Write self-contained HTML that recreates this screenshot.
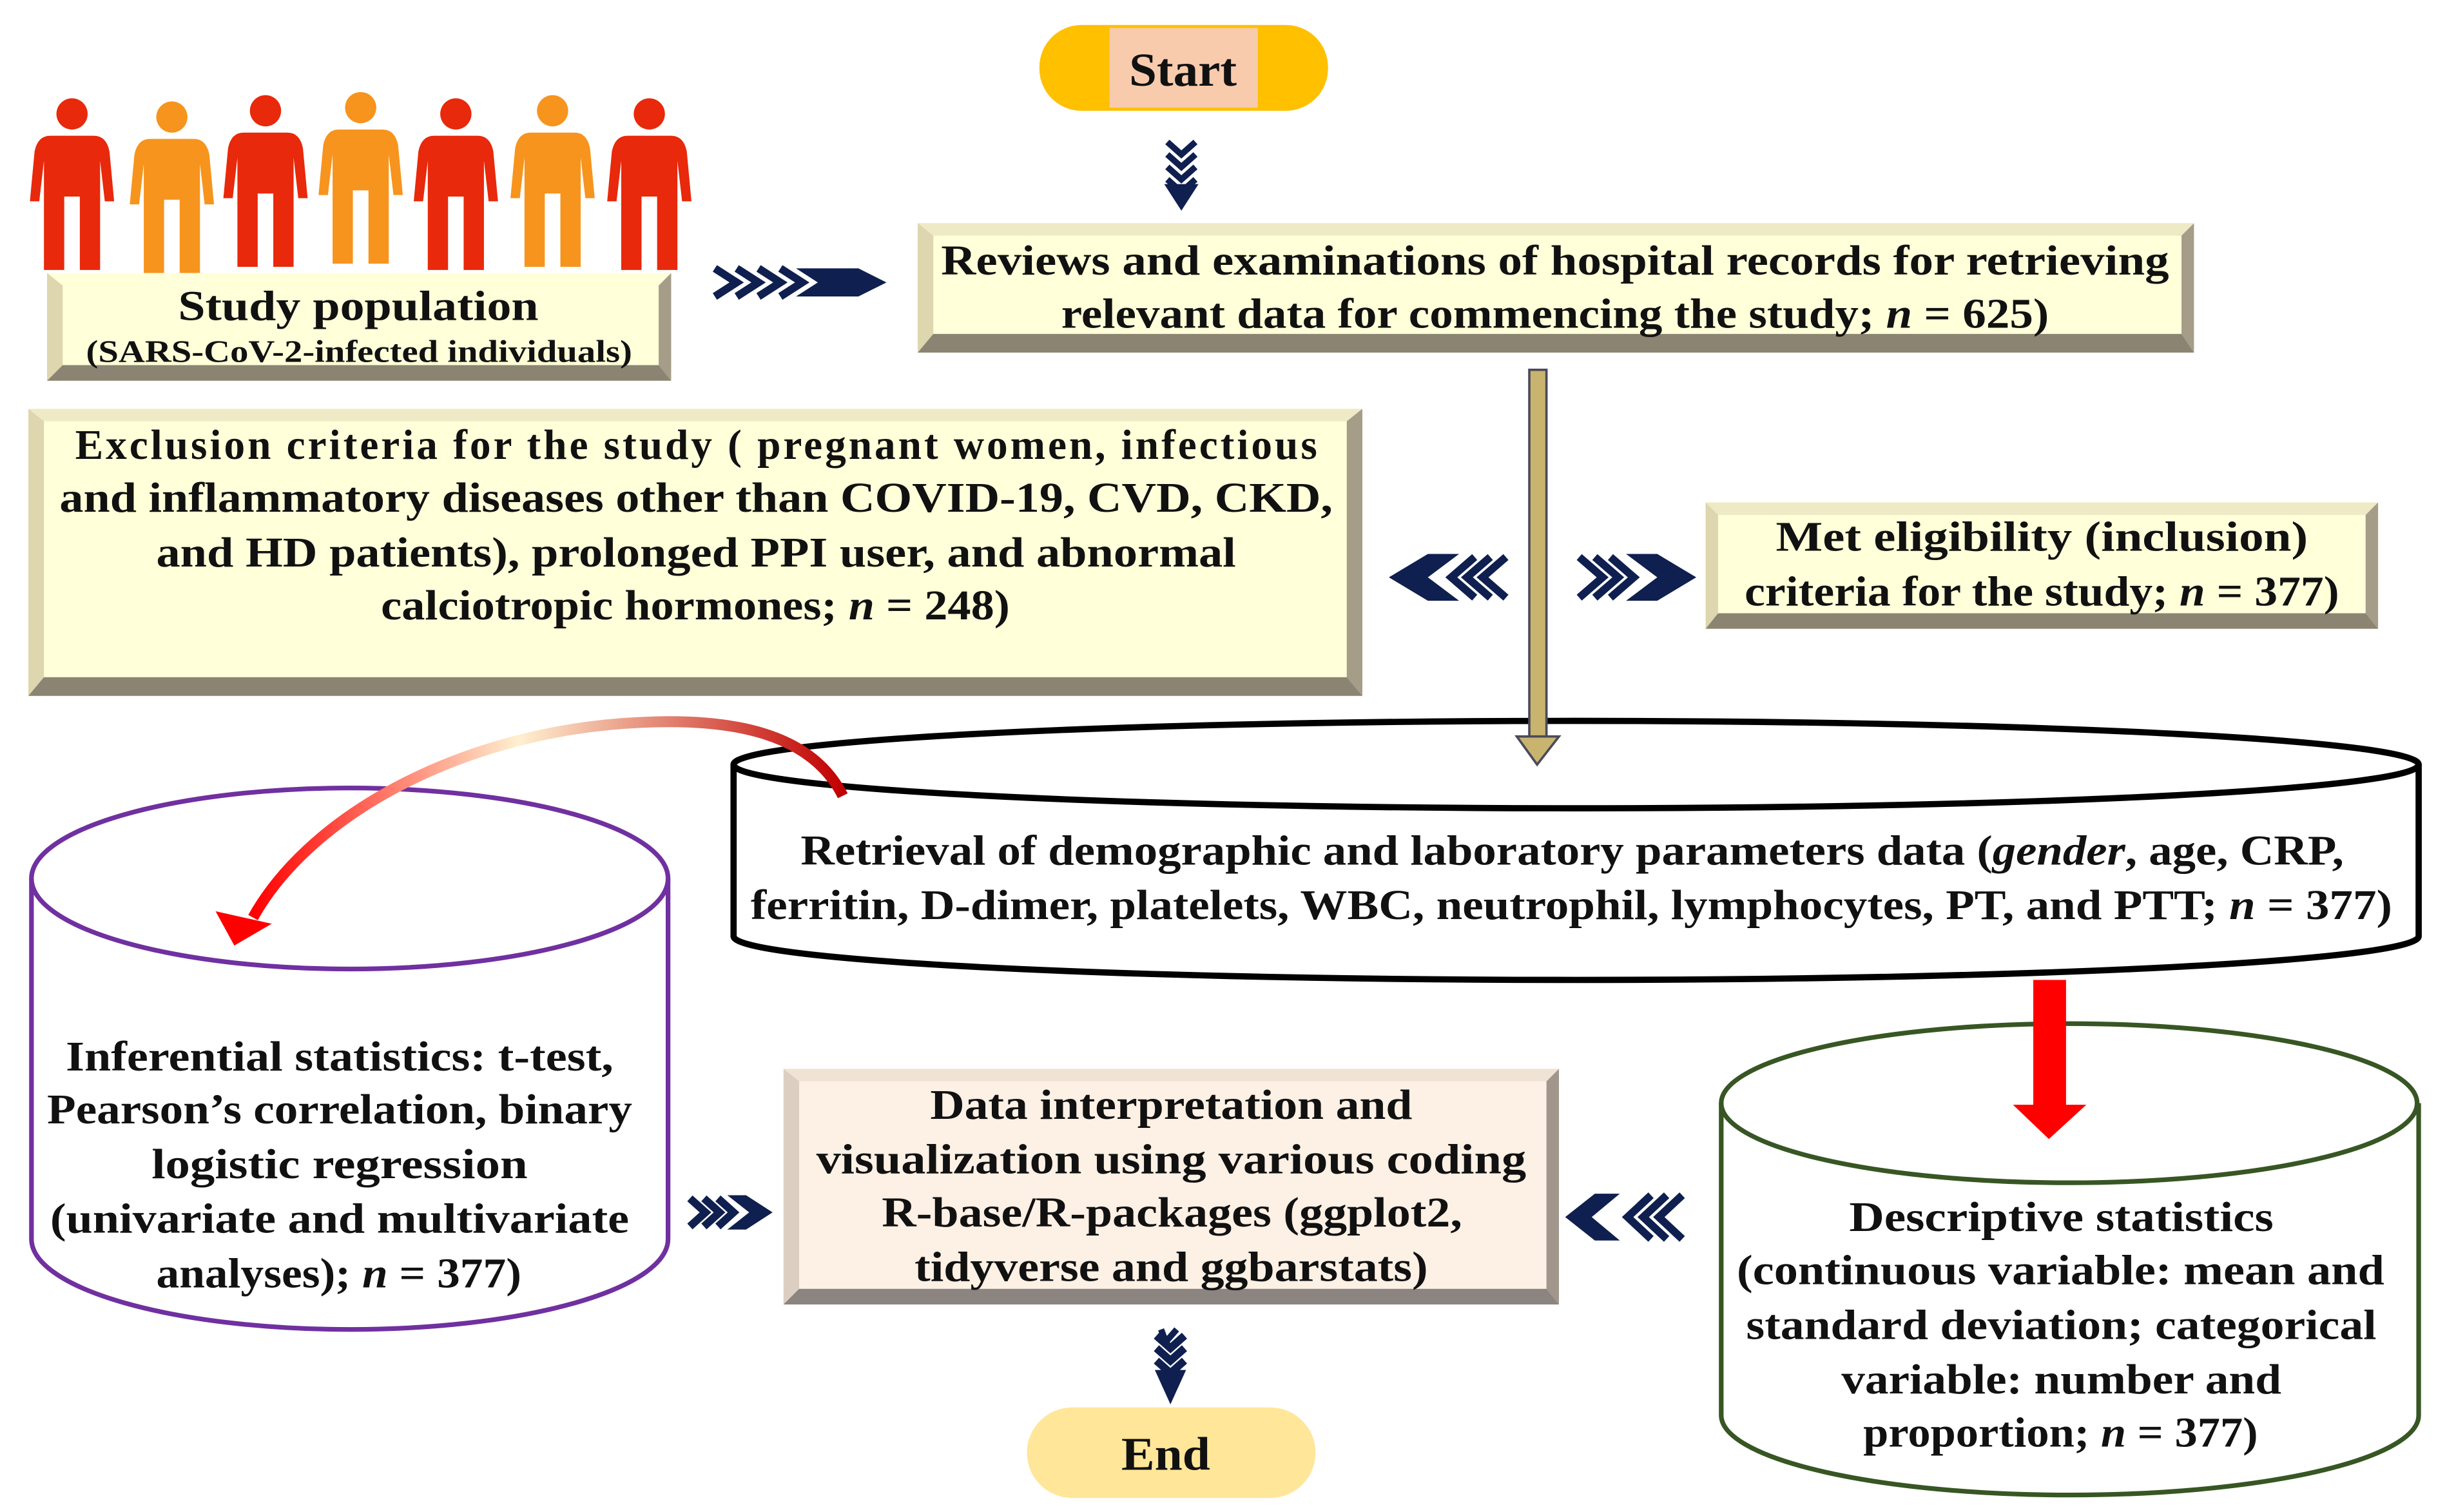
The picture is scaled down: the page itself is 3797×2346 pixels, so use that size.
<!DOCTYPE html>
<html><head><meta charset="utf-8"><style>html,body{margin:0;padding:0;background:#fff}svg{display:block}</style></head>
<body>
<svg width="3797" height="2346" viewBox="0 0 1568 969" xmlns="http://www.w3.org/2000/svg" font-family="'Liberation Serif', serif" font-weight="bold" fill="#111">
<defs>
<linearGradient id="cg" x1="0" y1="0" x2="1" y2="0">
<stop offset="0" stop-color="#ff0000"/><stop offset="0.45" stop-color="#fff0d0"/><stop offset="1" stop-color="#c00000"/>
</linearGradient>
<g id="man">
<circle cx="0" cy="-48" r="10"/>
<path d="M-14,-34 H14 Q22,-34 24,-24 L27,8 H21 L18,-18 V52 H5 V5 H-5 V52 H-18 V-18 L-21,8 H-27 L-24,-24 Q-22,-34 -14,-34Z"/>
</g>
</defs>
<rect width="1568" height="969" fill="#fff"/>

<!-- people -->
<g fill="#E8290B"><use href="#man" x="46" y="121"/><use href="#man" x="170" y="119"/><use href="#man" x="292" y="121"/><use href="#man" x="416" y="121"/></g>
<g fill="#F7941D"><use href="#man" x="110" y="123"/><use href="#man" x="231" y="117"/><use href="#man" x="354" y="119"/></g>

<!-- Start -->
<rect x="666" y="16" width="185" height="55" rx="27" fill="#FFC000"/>
<rect x="711" y="18" width="95" height="51" fill="#F8CBAD"/>
<text x="758" y="55" font-size="30" text-anchor="middle" textLength="69" lengthAdjust="spacingAndGlyphs">Start</text>

<!-- down chevrons -->
<g stroke="#0F1F4F" stroke-width="4" fill="none">
<polyline points="748,91 757,99 766,91"/><polyline points="748,99 757,107 766,99"/><polyline points="748,107 757,115 766,107"/><polyline points="748,115 757,123 766,115"/>
<polyline points="748,852 751,860 758,852" transform="translate(-4,0)"/>
</g>
<polygon points="746,118 768,118 757,135" fill="#0F1F4F"/>

<!-- bevel boxes -->
<g>
<rect x="30" y="175" width="400" height="69" fill="#FFFFD9"/>
<polygon points="30,175 40,183 40,234 30,244" fill="#DDD6AE"/>
<polygon points="430,175 430,244 422,234 422,183" fill="#A59D88"/>
<polygon points="30,244 40,234 422,234 430,244" fill="#8C8472"/>
</g>
<g>
<rect x="588" y="143" width="818" height="83" fill="#FFFFD9"/>
<polygon points="588,143 1406,143 1398,151 596,151" fill="#EEEAC6"/>
<polygon points="588,143 598,151 598,214 588,226" fill="#DDD6AE"/>
<polygon points="1406,143 1406,226 1398,214 1398,151" fill="#A59D88"/>
<polygon points="588,226 598,214 1398,214 1406,226" fill="#8C8472"/>
</g>
<g>
<rect x="18" y="262" width="855" height="184" fill="#FFFFD9"/>
<polygon points="18,262 873,262 863,270 28,270" fill="#EEEAC6"/>
<polygon points="18,262 28,270 28,434 18,446" fill="#DDD6AE"/>
<polygon points="873,262 873,446 863,434 863,270" fill="#A59D88"/>
<polygon points="18,446 28,434 863,434 873,446" fill="#8C8472"/>
</g>
<g>
<rect x="1093" y="322" width="431" height="81" fill="#FFFFD9"/>
<polygon points="1093,322 1524,322 1516,330 1101,330" fill="#EEEAC6"/>
<polygon points="1093,322 1101,330 1101,393 1093,403" fill="#DDD6AE"/>
<polygon points="1524,322 1524,403 1516,393 1516,330" fill="#A59D88"/>
<polygon points="1093,403 1101,393 1516,393 1524,403" fill="#8C8472"/>
</g>
<g>
<rect x="502" y="685" width="497" height="151" fill="#FDF0E4"/>
<polygon points="502,685 999,685 991,693 510,693" fill="#EFE3D6"/>
<polygon points="502,685 512,693 512,826 502,836" fill="#DCCFC2"/>
<polygon points="999,685 999,836 991,826 991,693" fill="#A0968C"/>
<polygon points="502,836 512,826 991,826 999,836" fill="#8C8480"/>
</g>

<!-- Study population text -->
<text x="114" y="205" font-size="27" textLength="231" lengthAdjust="spacingAndGlyphs">Study population</text>
<text x="55" y="232" font-size="20" textLength="350" lengthAdjust="spacingAndGlyphs">(SARS-CoV-2-infected individuals)</text>

<text x="603" y="176" font-size="27" textLength="787" lengthAdjust="spacingAndGlyphs">Reviews and examinations of hospital records for retrieving</text>
<text x="680" y="210" font-size="27" textLength="633" lengthAdjust="spacingAndGlyphs">relevant data for commencing the study; <tspan font-style="italic">n</tspan> = 625)</text>

<text font-size="27" lengthAdjust="spacingAndGlyphs">
<tspan x="48" y="294" textLength="796">Exclusion criteria for the study ( pregnant women, infectious</tspan>
</text>
<text x="38" y="328" font-size="27" textLength="816" lengthAdjust="spacingAndGlyphs">and inflammatory diseases other than COVID-19, CVD, CKD,</text>
<text x="100" y="363" font-size="27" textLength="692" lengthAdjust="spacingAndGlyphs">and HD patients), prolonged PPI user, and abnormal</text>
<text x="244" y="397" font-size="27" textLength="403" lengthAdjust="spacingAndGlyphs">calciotropic hormones; <tspan font-style="italic">n</tspan> = 248)</text>

<text x="1138" y="353" font-size="27" textLength="341" lengthAdjust="spacingAndGlyphs">Met eligibility (inclusion)</text>
<text x="1118" y="388" font-size="27" textLength="381" lengthAdjust="spacingAndGlyphs">criteria for the study; <tspan font-style="italic">n</tspan> = 377)</text>

<!-- horizontal chevrons -->
<g stroke="#0F1F4F" stroke-width="5" fill="none">
<!-- right at top -->
<polyline points="458,172 472,181 458,190"/><polyline points="472,172 486,181 472,190"/><polyline points="486,172 500,181 486,190"/><polyline points="500,172 514,181 500,190"/>
<!-- left 890-970 -->
<polyline points="945,357 930,370 945,383"/><polyline points="955,357 940,370 955,383"/><polyline points="965,357 950,370 965,383"/>
<!-- right 1005-1087 -->
<polyline points="1012,357 1027,370 1012,383"/><polyline points="1022,357 1037,370 1022,383"/><polyline points="1032,357 1047,370 1032,383"/>
<!-- right 437-495 -->
<polyline points="442,768 452,777 442,786"/><polyline points="451,768 461,777 451,786"/><polyline points="460,768 470,777 460,786"/>
<!-- left 1003-1083 -->
<polyline points="1058,766 1043,780 1058,794"/><polyline points="1068,766 1053,780 1068,794"/><polyline points="1078,766 1063,780 1078,794"/>
<!-- down bottom -->
<polyline points="741,856 750,864 759,856"/><polyline points="741,864 750,872 759,864"/><polyline points="741,872 750,880 759,872"/>
</g>
<g fill="#0F1F4F">
<polygon points="510,172 550,172 568,181 550,190 510,190 524,181"/>
<polygon points="890,370 915,355 935,355 915,370 935,385 915,385"/>
<polygon points="1087,370 1062,355 1042,355 1062,370 1042,385 1062,385"/>
<polygon points="495,777 478,766 466,766 480,777 466,788 478,788"/>
<polygon points="1003,780 1022,765 1038,765 1020,780 1038,795 1022,795"/>
<polygon points="740,878 760,878 750,900"/>
</g>

<!-- black cylinder -->
<path d="M470,490 V600 A540,28 0 0 0 1550,600 V490" fill="#fff" stroke="#000" stroke-width="4"/>
<ellipse cx="1010" cy="490" rx="540" ry="28" fill="#fff" stroke="#000" stroke-width="4"/>

<!-- vertical khaki arrow -->
<rect x="980" y="237" width="11" height="236" fill="#C8B46E" stroke="#4a4a5a" stroke-width="1.5"/>
<polygon points="972,472 999,472 985,490" fill="#C8B46E" stroke="#4a4a5a" stroke-width="1.5"/>

<text x="513" y="554" font-size="27" textLength="989" lengthAdjust="spacingAndGlyphs">Retrieval of demographic and laboratory parameters data (<tspan font-style="italic">gender</tspan>, age, CRP,</text>
<text x="481" y="589" font-size="27" textLength="1052" lengthAdjust="spacingAndGlyphs">ferritin, D-dimer, platelets, WBC, neutrophil, lymphocytes, PT, and PTT; <tspan font-style="italic">n</tspan> = 377)</text>

<!-- purple cylinder -->
<path d="M20,563 V794 A204,58 0 0 0 428,794 V563" fill="#fff" stroke="#7030A0" stroke-width="3"/>
<ellipse cx="224" cy="563" rx="204" ry="58" fill="#fff" stroke="#7030A0" stroke-width="3"/>
<text x="42" y="686" font-size="27" textLength="351" lengthAdjust="spacingAndGlyphs">Inferential statistics: t-test,</text>
<text x="30" y="720" font-size="27" textLength="375" lengthAdjust="spacingAndGlyphs">Pearson’s correlation, binary</text>
<text x="97" y="755" font-size="27" textLength="241" lengthAdjust="spacingAndGlyphs">logistic regression</text>
<text x="32" y="790" font-size="27" textLength="371" lengthAdjust="spacingAndGlyphs">(univariate and multivariate</text>
<text x="100" y="825" font-size="27" textLength="234" lengthAdjust="spacingAndGlyphs">analyses); <tspan font-style="italic">n</tspan> = 377)</text>

<!-- green cylinder -->
<path d="M1103,707 V907 A223,51 0 0 0 1550,907 V707" fill="#fff" stroke="#375623" stroke-width="3"/>
<ellipse cx="1326" cy="707" rx="223" ry="51" fill="#fff" stroke="#375623" stroke-width="3"/>
<text x="1185" y="789" font-size="27" textLength="272" lengthAdjust="spacingAndGlyphs">Descriptive statistics</text>
<text x="1113" y="823" font-size="27" textLength="415" lengthAdjust="spacingAndGlyphs">(continuous variable: mean and</text>
<text x="1119" y="858" font-size="27" textLength="404" lengthAdjust="spacingAndGlyphs">standard deviation; categorical</text>
<text x="1180" y="893" font-size="27" textLength="282" lengthAdjust="spacingAndGlyphs">variable: number and</text>
<text x="1194" y="927" font-size="27" textLength="253" lengthAdjust="spacingAndGlyphs">proportion; <tspan font-style="italic">n</tspan> = 377)</text>

<!-- red down arrow -->
<rect x="1303" y="628" width="21" height="82" fill="#FF0000"/>
<polygon points="1290,708 1337,708 1313,730" fill="#FF0000"/>

<!-- curved arrow -->
<path d="M540,510 C520,470 470,460 410,463 C300,468 200,520 162,588" fill="none" stroke="url(#cg)" stroke-width="7"/>
<polygon points="138,584 174,592 150,606" fill="#FF0000"/>

<!-- Data box text -->
<text x="596" y="717" font-size="27" textLength="309" lengthAdjust="spacingAndGlyphs">Data interpretation and</text>
<text x="523" y="752" font-size="27" textLength="455" lengthAdjust="spacingAndGlyphs">visualization using various coding</text>
<text x="565" y="786" font-size="27" textLength="372" lengthAdjust="spacingAndGlyphs">R-base/R-packages (ggplot2,</text>
<text x="586" y="821" font-size="27" textLength="329" lengthAdjust="spacingAndGlyphs">tidyverse and ggbarstats)</text>

<!-- End -->
<rect x="658" y="902" width="185" height="58" rx="29" fill="#FFE699"/>
<text x="747" y="942" font-size="30" text-anchor="middle" textLength="57" lengthAdjust="spacingAndGlyphs">End</text>
</svg>
</body></html>
